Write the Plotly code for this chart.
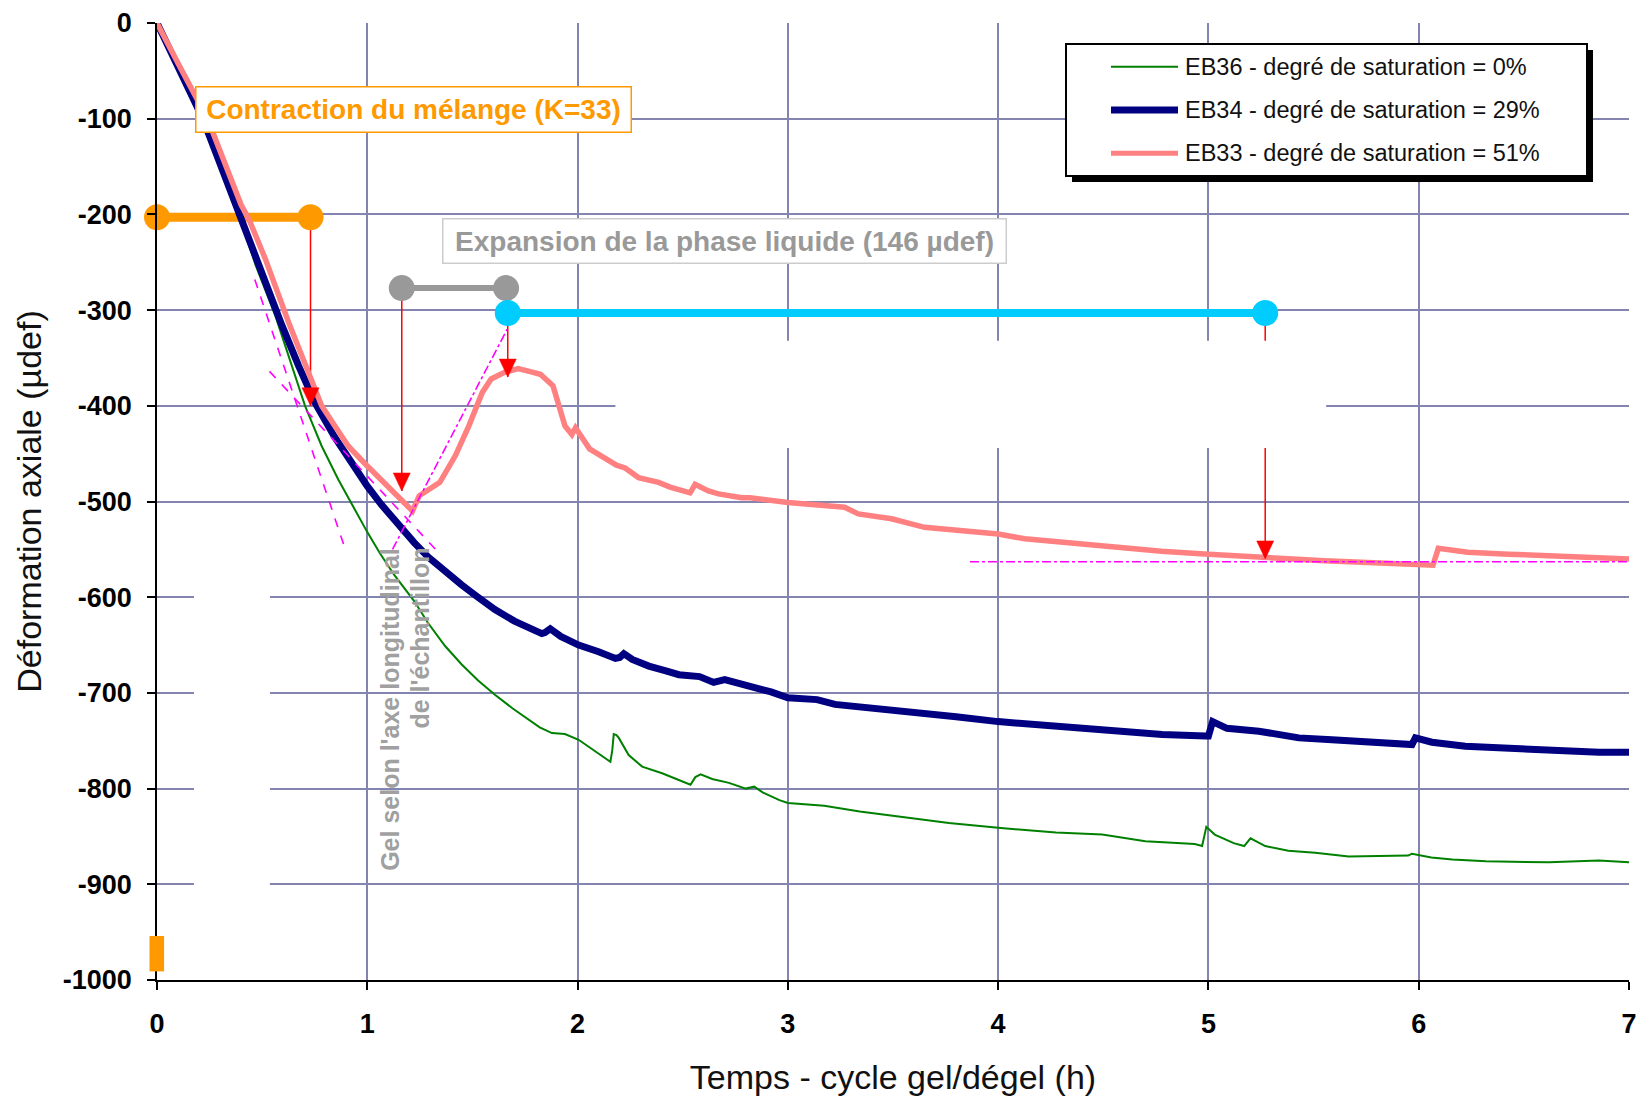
import plotly.graph_objects as go

# ---- measured series: time in hours, axial strain in µdef ----
eb36_t = [0, 0.05, 0.1, 0.218, 0.3, 0.39, 0.469, 0.563, 0.657, 0.704, 0.783, 0.862, 0.94, 1.0,
          1.06, 1.129, 1.223, 1.289, 1.37, 1.448, 1.527, 1.607, 1.69, 1.766, 1.82, 1.878, 1.94,
          2.005, 2.08, 2.156, 2.165, 2.172, 2.185, 2.196, 2.243, 2.307, 2.402, 2.537, 2.56, 2.585,
          2.64, 2.72, 2.8, 2.84, 2.88, 2.96, 3.0, 3.173, 3.342, 3.597, 3.766, 4.0, 4.275, 4.495,
          4.7, 4.935, 4.97, 4.99, 5.03, 5.12, 5.17, 5.2, 5.27, 5.38, 5.508, 5.667, 5.95, 5.968,
          6.06, 6.16, 6.32, 6.62, 6.857, 7.0]
eb36_def = [0, -22, -45, -100, -146, -200, -253, -306, -369, -400, -442, -477, -508, -532,
            -554, -577, -604, -627, -651, -670, -687, -702, -716, -728, -736, -742, -743,
            -749, -760, -772, -760, -743, -744, -747, -765, -777, -784, -796, -788, -785,
            -790, -794, -800, -798, -804, -812, -815, -818, -824, -831, -836, -841, -846, -848,
            -855, -858, -860, -840, -848, -857, -860, -852, -860, -865, -867, -871, -870, -868,
            -872, -874, -876, -877, -875, -877]

eb34_t = [0, 0.05, 0.1, 0.16, 0.218, 0.3, 0.39, 0.484, 0.594, 0.673, 0.752, 0.846, 0.94, 1.0,
          1.066, 1.13, 1.223, 1.289, 1.38, 1.448, 1.52, 1.607, 1.7, 1.78, 1.83, 1.845, 1.87, 1.92,
          2.005, 2.1, 2.18, 2.2, 2.22, 2.26, 2.339, 2.42, 2.482, 2.58, 2.647, 2.7, 2.834, 2.92,
          3.0, 3.139, 3.224, 3.427, 3.597, 3.8, 4.0, 4.275, 4.53, 4.78, 4.986, 5.0, 5.02, 5.088,
          5.24, 5.43, 5.587, 5.746, 5.968, 5.984, 6.063, 6.222, 6.46, 6.7, 6.857, 7.0]
eb34_def = [0, -22, -45, -73, -100, -147, -200, -253, -316, -358, -397, -433, -465, -484,
            -503, -520, -543, -558, -576, -587, -599, -613, -625, -633, -638, -637, -633, -641,
            -650, -657, -664, -663, -659, -665, -672, -677, -681, -683, -689, -686, -693, -699,
            -705, -707, -712, -716, -721, -725, -730, -735, -740, -743.5, -745, -745, -730, -737,
            -740, -747, -749, -751.5, -754, -747, -751.5, -755.8, -758.7, -760, -762, -762]

eb33_t = [0, 0.05, 0.1, 0.24, 0.32, 0.4, 0.437, 0.516, 0.626, 0.704, 0.74, 0.783, 0.846, 0.909,
          0.987, 1.066, 1.16, 1.215, 1.247, 1.345, 1.419, 1.483, 1.547, 1.589, 1.653, 1.717,
          1.77, 1.823, 1.883, 1.91, 1.94, 1.973, 1.99, 2.057, 2.185, 2.226, 2.29, 2.385, 2.44,
          2.535, 2.559, 2.622, 2.67, 2.78, 2.82, 3.0, 3.14, 3.27, 3.335, 3.493, 3.65, 3.81, 4.0,
          4.127, 4.285, 4.39, 4.777, 5.0, 5.262, 5.553, 5.845, 6.068, 6.093, 6.136, 6.233,
          6.427, 6.718, 7.0]
eb33_def = [0, -20, -42, -100, -145, -190, -205, -247, -313, -355, -378, -400, -421, -442,
            -460, -477, -498, -510, -494, -480, -452, -421, -386, -372, -365, -361,
            -364, -367, -379, -397, -421, -430, -423, -445, -462, -465, -475, -480, -485,
            -491, -482, -489, -492, -496, -496, -501, -503, -506, -513, -518, -527, -530, -534,
            -539, -542, -545, -552, -555, -558.5, -562, -564.5, -566.5, -549, -550, -553,
            -555, -557, -560]

series_names = ["EB36 - degré de saturation = 0%",
                "EB34 - degré de saturation = 29%",
                "EB33 - degré de saturation = 51%"]

# ---- phase markers (horizontal bars) ----
contraction_t = [0, 0.73]
contraction_def = [-203, -203]
gel_t = [1.164, 1.66]
gel_def = [-277, -277]
expansion_t = [1.668, 5.27]
expansion_def = [-303, -303]

# vertical red arrows: abscissa, start and end strain
arrow_t = [0.73, 1.164, 1.668, 5.27]
arrow_from = [-203, -277, -303, -303]
arrow_to = [-400, -489, -370, -560]

# tangent construction lines: (t0, d0, t1, d1, dash)
tangents = [
    (0.465, -268, 0.9, -553, "dash"),
    (0.535, -364, 1.333, -552, "dash"),
    (1.12, -550, 1.665, -320, "dashdot"),
    (3.866, -563, 7.0, -563, "dashdot"),
]

# axes
x_ticks = [0, 1, 2, 3, 4, 5, 6, 7]
y_ticks = [0, -100, -200, -300, -400, -500, -600, -700, -800, -900, -1000]
y_ticktext = [str(v) for v in y_ticks]

# page geometry (px)
W, H = 1639, 1097
ML, MR, MT, MB = 157, 10, 23, 117
PW, PH = W - ML - MR, H - MT - MB
px_per_h = PW / 7.0
px_per_def = PH / 1000.0

GREEN = "#008000"
NAVY = "#000080"
PINK = "#FF8080"
ORANGE = "#FF9900"
GREY = "#999999"
CYAN = "#00CCFF"
RED = "#FF0000"
MAGENTA = "#FF00FF"
GRID = "#8484B0"
FONT = "Liberation Sans, Arial, sans-serif"

fig = go.Figure()

# phase bars
for t, d, c, w in [(contraction_t, contraction_def, ORANGE, 9),
                   (gel_t, gel_def, GREY, 6),
                   (expansion_t, expansion_def, CYAN, 8)]:
    fig.add_trace(go.Scatter(x=t, y=d, mode="lines+markers", showlegend=False,
                             line=dict(color=c, width=w), marker=dict(color=c, size=26),
                             cliponaxis=False, hoverinfo="skip"))

# strain curves
fig.add_trace(go.Scatter(x=eb36_t, y=eb36_def, mode="lines", name=series_names[0],
                         line=dict(color=GREEN, width=2), showlegend=False))
fig.add_trace(go.Scatter(x=eb34_t, y=eb34_def, mode="lines", name=series_names[1],
                         line=dict(color=NAVY, width=7), showlegend=False))
fig.add_trace(go.Scatter(x=eb33_t, y=eb33_def, mode="lines", name=series_names[2],
                         line=dict(color=PINK, width=5.5), showlegend=False))

shapes = []
# arrow shafts (under the white masks)
for t, a, b in zip(arrow_t, arrow_from, arrow_to):
    shapes.append(dict(type="line", xref="x", yref="y", x0=t, x1=t, y0=a, y1=b,
                       line=dict(color=RED, width=1.5), layer="between"))

# white masks hiding part of the grid
shapes.append(dict(type="rect", xref="x", yref="y", x0=0.176, x1=0.537, y0=-960, y1=-555,
                   fillcolor="white", line=dict(width=0), layer="between"))
shapes.append(dict(type="rect", xref="x", yref="y", x0=2.18, x1=5.56, y0=-444, y1=-332,
                   fillcolor="white", line=dict(width=0), layer="between"))

# arrow heads
hw = 8.5 / px_per_h
hh = 18.0 / px_per_def
for t, b in zip(arrow_t, arrow_to):
    shapes.append(dict(type="path", xref="x", yref="y",
                       path=f"M{t},{b} L{t - hw},{b + hh} L{t + hw},{b + hh} Z",
                       fillcolor=RED, line=dict(color=RED, width=0.5), layer="above"))

# tangent lines
for t0, d0, t1, d1, dash in tangents:
    shapes.append(dict(type="line", xref="x", yref="y", x0=t0, y0=d0, x1=t1, y1=d1,
                       line=dict(color=MAGENTA, width=1.6, dash=dash), layer="above"))

# small orange tab near the origin of the strain axis
shapes.append(dict(type="rect", xref="paper", yref="paper", x0=-0.0051, x1=0.0048,
                   y0=0.009, y1=0.046, fillcolor=ORANGE, line=dict(width=0), layer="above"))


# legend box with drop shadow
def px_x(p):
    return (p - ML) / PW


def px_y(p):
    return (MT + PH - p) / PH


lg_l, lg_r, lg_t, lg_b = 1066, 1587, 44, 176
shapes.append(dict(type="rect", xref="paper", yref="paper",
                   x0=px_x(lg_l + 6), x1=px_x(lg_r + 6), y0=px_y(lg_b + 6), y1=px_y(lg_t + 6),
                   fillcolor="black", line=dict(width=0), layer="above"))
shapes.append(dict(type="rect", xref="paper", yref="paper",
                   x0=px_x(lg_l), x1=px_x(lg_r), y0=px_y(lg_b), y1=px_y(lg_t),
                   fillcolor="white", line=dict(color="black", width=2), layer="above"))

legend_rows = [66.7, 110, 153.3]
legend_styles = [(GREEN, 2), (NAVY, 7), (PINK, 5)]
annotations = []
for name, row, (c, w) in zip(series_names, legend_rows, legend_styles):
    shapes.append(dict(type="line", xref="paper", yref="paper",
                       x0=px_x(1111), x1=px_x(1178), y0=px_y(row), y1=px_y(row),
                       line=dict(color=c, width=w), layer="above"))
    annotations.append(dict(xref="paper", yref="paper", x=px_x(1183), y=px_y(row),
                            xanchor="left", yanchor="middle", showarrow=False, text=name,
                            font=dict(family=FONT, size=23.5, color="#111111")))

# text boxes
annotations.append(dict(xref="x", yref="y", x=1.222, y=-90.5, showarrow=False,
                        text="<b>Contraction du mélange (K=33)</b>",
                        font=dict(family=FONT, size=28, color=ORANGE),
                        bgcolor="white", bordercolor=ORANGE, borderwidth=1.5, borderpad=3,
                        width=428, height=38))
annotations.append(dict(xref="x", yref="y", x=2.70, y=-228.3, showarrow=False,
                        text="<b>Expansion de la phase liquide (146 µdef)</b>",
                        font=dict(family=FONT, size=28, color=GREY),
                        bgcolor="white", bordercolor="#CCCCCC", borderwidth=1.5, borderpad=3,
                        width=556, height=37))
annotations.append(dict(xref="x", yref="y", x=1.1065, y=-717, showarrow=False,
                        text="<b>Gel selon l'axe longitudinal</b>", textangle=-90,
                        font=dict(family=FONT, size=25, color="#A0A0A0")))
annotations.append(dict(xref="x", yref="y", x=1.249, y=-642.5, showarrow=False,
                        text="<b>de l'échantillon</b>", textangle=-90,
                        font=dict(family=FONT, size=25, color="#A0A0A0")))

fig.update_layout(
    width=W, height=H,
    margin=dict(l=ML, r=MR, t=MT, b=MB, autoexpand=False),
    paper_bgcolor="white", plot_bgcolor="white",
    shapes=shapes, annotations=annotations,
    showlegend=False,
    font=dict(family=FONT, color="black"),
)
fig.update_xaxes(
    range=[0, 7], tickvals=x_ticks, ticktext=[str(v) for v in x_ticks],
    showgrid=True, gridcolor=GRID, gridwidth=1.5, zeroline=False,
    showline=True, linecolor="black", linewidth=2,
    ticks="outside", ticklen=8, tickcolor="black", tickwidth=1.5,
    tickfont=dict(family=FONT, size=27, color="black", weight="bold"),
    ticklabelstandoff=11,
    title=dict(text="Temps - cycle gel/dégel (h)", font=dict(family=FONT, size=34, color="#111111"),
               standoff=27),
)
fig.update_yaxes(
    range=[-1000, 0], tickvals=y_ticks, ticktext=y_ticktext,
    showgrid=True, gridcolor=GRID, gridwidth=1.5, zeroline=False,
    showline=True, linecolor="black", linewidth=1.5,
    ticks="outside", ticklen=8, tickcolor="black", tickwidth=1.5,
    tickfont=dict(family=FONT, size=27, color="black", weight="bold"),
    ticklabelstandoff=10,
    title=dict(text="Déformation axiale (µdef)", font=dict(family=FONT, size=34, color="#111111"),
               standoff=11),
)

fig.write_html("out.html")
